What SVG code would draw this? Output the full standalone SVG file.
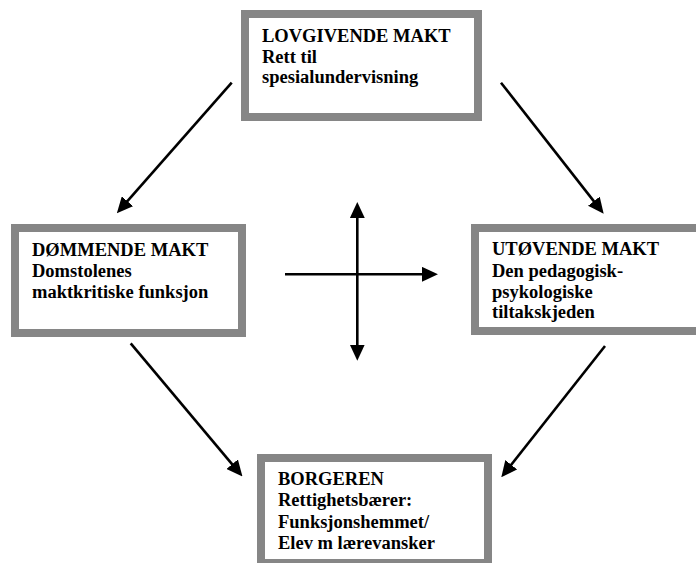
<svg xmlns="http://www.w3.org/2000/svg" width="696" height="563" viewBox="0 0 696 563">
<style>
.box{fill:#ffffff;stroke:#868686;stroke-width:8}
.t{font-family:"Liberation Serif","Times New Roman",serif;font-weight:bold;font-size:18.5px;fill:#000}
.c{stroke:#000;stroke-width:2.6;fill:none;marker-end:url(#ah)}
</style>
<defs>
<marker id="ah" markerUnits="userSpaceOnUse" markerWidth="16" markerHeight="15" refX="5" refY="7" orient="auto-start-reverse" viewBox="0 0 15 14">
<path d="M0,0 L15,7 L0,14 z" fill="#000"/>
</marker>
<clipPath id="clipR"><rect x="479" y="232" width="217" height="90"/></clipPath>
</defs>
<rect x="0" y="0" width="696" height="563" fill="#fff"/>
<g id="connectors">
<line class="c" x1="231.7" y1="82.7" x2="123.9" y2="205.2"/>
<line class="c" x1="501" y1="82.7" x2="597.1" y2="205.4"/>
<line class="c" x1="130.7" y1="343.3" x2="235.6" y2="468.3"/>
<line class="c" x1="605" y1="346" x2="507.9" y2="468.9"/>
<line class="c" x1="285" y1="274.3" x2="427.3" y2="274.3"/>
<line class="c" x1="357.3" y1="212.7" x2="357.3" y2="350" style="marker-start:url(#ah)"/>
</g>
<g id="lovgivende">
<rect class="box" x="245" y="14" width="233" height="103"/>
<text class="t" x="262" y="42">LOVGIVENDE MAKT</text>
<text class="t" x="262" y="62.5">Rett til</text>
<text class="t" x="262" y="83">spesialundervisning</text>
</g>
<g id="dommende">
<rect class="box" x="15" y="228" width="227" height="105"/>
<text class="t" x="32" y="256">DØMMENDE MAKT</text>
<text class="t" x="32" y="277">Domstolenes</text>
<text class="t" x="32" y="298">maktkritiske funksjon</text>
</g>
<g id="utovende">
<rect class="box" x="475" y="228" width="260" height="103"/>
<g clip-path="url(#clipR)">
<text class="t" x="492" y="255">UTØVENDE MAKT</text>
<text class="t" x="492" y="277">Den pedagogisk-</text>
<text class="t" x="492" y="298">psykologiske</text>
<text class="t" x="492" y="318">tiltakskjeden</text>
</g>
</g>
<g id="borgeren">
<rect class="box" x="261" y="458" width="227" height="105"/>
<text class="t" x="278" y="485">BORGEREN</text>
<text class="t" x="278" y="506">Rettighetsbærer:</text>
<text class="t" x="278" y="528">Funksjonshemmet/</text>
<text class="t" x="278" y="549">Elev m lærevansker</text>
</g>
</svg>
